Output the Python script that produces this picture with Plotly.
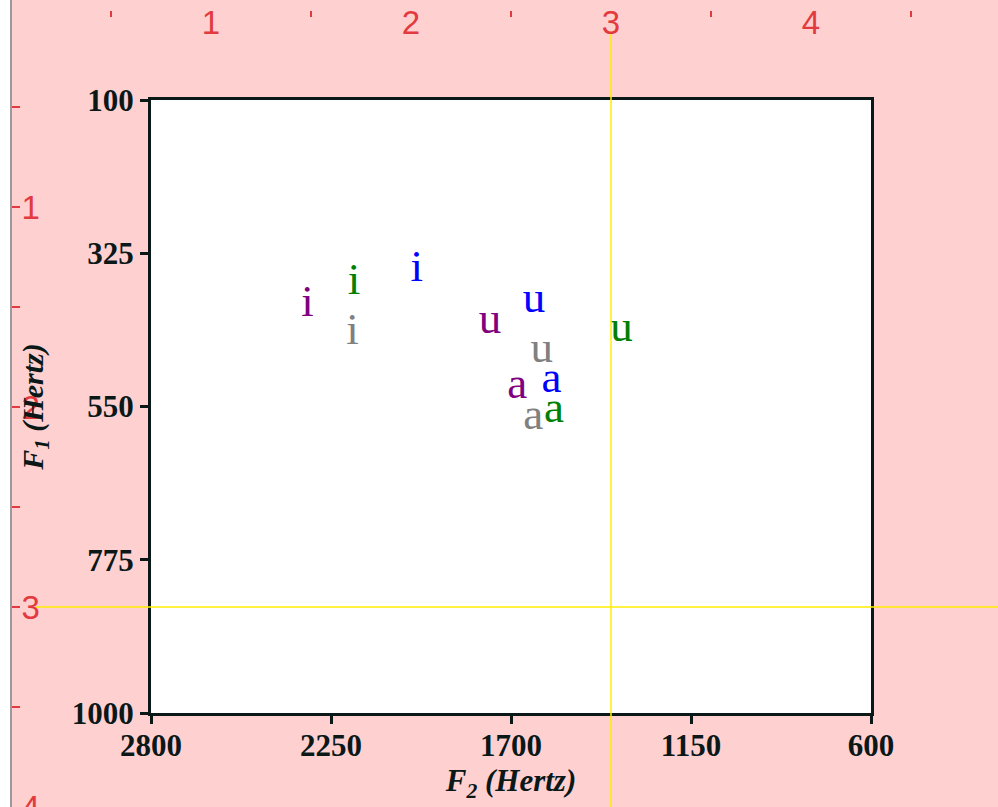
import plotly.graph_objects as go

W, H = 998, 807

# ---------------- data ----------------
VOWELS = ["i", "u", "a"]
SPEAKER_COLORS = ["#800080", "#008000", "#808080", "#0000ff"]
F2_PURPLE = [2322, 1764, 1681]
F1_PURPLE = [401, 426, 521]
F2_GREEN = [2180, 1362, 1569]
F1_GREEN = [368, 438, 556]
F2_GRAY = [2184, 1606, 1632]
F1_GRAY = [442, 468, 567]
F2_BLUE = [1988, 1630, 1576]
F1_BLUE = [349, 394, 512]

X_TICKS = [2800, 2250, 1700, 1150, 600]
Y_TICKS = [100, 325, 550, 775, 1000]

RULER_X_MAJOR = [1, 2, 3, 4]
RULER_X_MINOR = [0.5, 1.5, 2.5, 3.5, 4.5]
RULER_Y_MAJOR = [-1, -2, -3, -4]
RULER_Y_MINOR = [-0.5, -1.5, -2.5, -3.5]
CROSS_X = 3
CROSS_Y = -3

# ---------------- styles ----------------
PINK = "#ffd0d0"
RED = "#e23a3e"
YELLOW = "#ffee00"
DARK = "#0a1818"
SERIF = "Liberation Serif, Times New Roman, serif"
NARROW = "Liberation Sans Narrow, Liberation Sans, Arial, sans-serif"


def px_x(p):
    return p / W


def px_y(p):
    return 1 - p / H


fig = go.Figure()

series = [
    (F2_PURPLE, F1_PURPLE, SPEAKER_COLORS[0]),
    (F2_GREEN, F1_GREEN, SPEAKER_COLORS[1]),
    (F2_GRAY, F1_GRAY, SPEAKER_COLORS[2]),
    (F2_BLUE, F1_BLUE, SPEAKER_COLORS[3]),
]
for f2, f1, col in series:
    fig.add_trace(go.Scatter(
        x=f2, y=f1, mode="text", text=VOWELS,
        textposition="middle center",
        textfont=dict(family=SERIF, size=45, color=col),
        xaxis="x", yaxis="y", showlegend=False, hoverinfo="skip",
    ))

# cross-hair lines on ruler axes
fig.add_trace(go.Scatter(
    x=[CROSS_X, CROSS_X], y=[-0.12, -4.0], mode="lines",
    line=dict(color=YELLOW, width=1.5), xaxis="x2", yaxis="y2",
    showlegend=False, hoverinfo="skip",
))
fig.add_trace(go.Scatter(
    x=[0.12, 4.935], y=[CROSS_Y, CROSS_Y], mode="lines",
    line=dict(color=YELLOW, width=1.5), xaxis="x2", yaxis="y2",
    showlegend=False, hoverinfo="skip",
))

tickfont_main = dict(family=SERIF, size=31, color=DARK, weight="bold")

fig.update_layout(
    width=W, height=H,
    margin=dict(l=0, r=0, t=0, b=0, autoexpand=False),
    paper_bgcolor=PINK,
    plot_bgcolor="rgba(0,0,0,0)",
    xaxis=dict(
        domain=[px_x(151), px_x(871)],
        range=[2800, 600], tickvals=X_TICKS, ticktext=[str(v) for v in X_TICKS],
        ticks="outside", ticklen=8, tickwidth=3, tickcolor=DARK,
        ticklabelstandoff=-5,
        showline=True, linewidth=3, linecolor=DARK, mirror=True,
        showgrid=False, zeroline=False, tickfont=tickfont_main,
        title=dict(text="<b><i>F<sub>2</sub> (Hertz)</i></b>",
                   font=dict(family=SERIF, size=31, color=DARK), standoff=6),
        anchor="y",
    ),
    yaxis=dict(
        domain=[px_y(713), px_y(100)],
        range=[1000, 100], tickvals=Y_TICKS, ticktext=[str(v) for v in Y_TICKS],
        ticks="outside", ticklen=8, tickwidth=3, tickcolor=DARK,
        showline=True, linewidth=3, linecolor=DARK, mirror=True,
        showgrid=False, zeroline=False, tickfont=tickfont_main,
        title=dict(text="<b><i>F<sub>1</sub> (Hertz)</i></b>",
                   font=dict(family=SERIF, size=30, color=DARK), standoff=20),
        anchor="x",
    ),
    xaxis2=dict(
        domain=[0, 1], range=[-0.055, 4.935], anchor="free",
        position=px_y(10), side="top",
        tickvals=RULER_X_MAJOR, ticktext=[str(v) for v in RULER_X_MAJOR],
        ticks="", ticklabelposition="inside", ticklabeloverflow="allow",
        ticklabelstandoff=-3,
        tickfont=dict(family=NARROW, size=33, color=RED),
        minor=dict(tickvals=RULER_X_MINOR, ticks="inside", ticklen=6,
                   tickwidth=1.5, tickcolor=RED),
        showline=False, showgrid=False, zeroline=False,
    ),
    yaxis2=dict(
        domain=[0, 1], range=[-4.0, 0.035], anchor="free",
        position=px_x(11), side="left",
        tickvals=RULER_Y_MAJOR, ticktext=[str(-v) for v in RULER_Y_MAJOR],
        ticks="inside", ticklen=8, tickwidth=1.5, tickcolor=RED,
        ticklabelposition="inside", ticklabeloverflow="allow",
        ticklabelstandoff=5,
        tickfont=dict(family=NARROW, size=33, color=RED),
        minor=dict(tickvals=RULER_Y_MINOR, ticks="inside", ticklen=8,
                   tickwidth=1.5, tickcolor=RED),
        showline=True, linewidth=2, linecolor="#9a9a9a",
        showgrid=False, zeroline=False,
    ),
    shapes=[
        dict(type="rect", xref="x domain", yref="y domain", x0=0, x1=1, y0=0, y1=1,
             fillcolor="white", line=dict(width=0), layer="below"),
        dict(type="rect", xref="paper", yref="paper", x0=0, x1=px_x(10), y0=0, y1=1,
             fillcolor="white", line=dict(width=0), layer="above"),
    ],
)

fig.write_html(
    "out.html",
    config={"displayModeBar": False},
    post_script="document.body.style.margin='0';document.body.style.overflow='hidden';",
)
